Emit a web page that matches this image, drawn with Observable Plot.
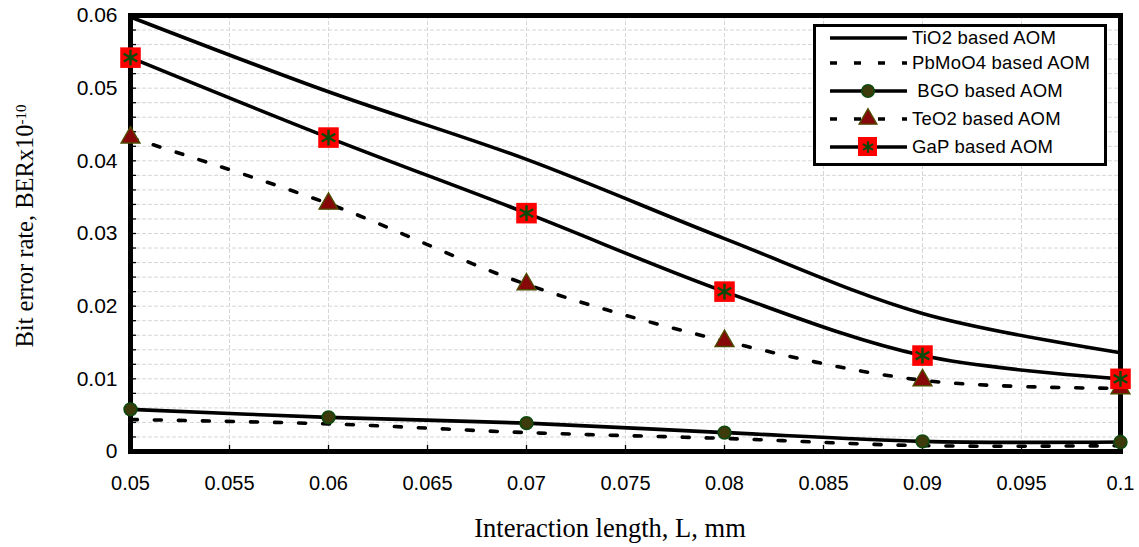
<!DOCTYPE html>
<html><head><meta charset="utf-8">
<script src="https://cdn.jsdelivr.net/npm/d3@7"></script>
<script src="https://cdn.jsdelivr.net/npm/@observablehq/plot@0.6"></script>
<style>
body{margin:0;background:#fff;}
#wrap{position:relative;width:1139px;height:547px;overflow:hidden;}
#legend{position:absolute;left:813px;top:24px;width:288px;height:136px;border:3px solid #000;background:#fff;}
</style></head><body><div id="wrap"></div>
<script>
// ---- data ----
const lengths = [0.05, 0.06, 0.07, 0.08, 0.09, 0.1];
const tio2   = [0.0598, 0.0495, 0.0402, 0.0293, 0.0190, 0.0136];
const pbmoo4 = [0.0044, 0.0038, 0.0026, 0.0018, 0.0008, 0.0008];
const bgo    = [0.0058, 0.0047, 0.0039, 0.0026, 0.0014, 0.0013];
const teo2   = [0.0432, 0.0341, 0.0230, 0.0152, 0.0098, 0.0087];
const gap    = [0.0542, 0.0432, 0.0328, 0.0220, 0.0132, 0.0100];
const seriesNames = ["TiO2 based AOM", "PbMoO4 based AOM", " BGO based AOM", "TeO2 based AOM", "GaP based AOM"];
const xTicks = [0.05, 0.055, 0.06, 0.065, 0.07, 0.075, 0.08, 0.085, 0.09, 0.095, 0.1];
const xTickLabels = ["0.05", "0.055", "0.06", "0.065", "0.07", "0.075", "0.08", "0.085", "0.09", "0.095", "0.1"];
const yTicks = [0, 0.01, 0.02, 0.03, 0.04, 0.05, 0.06];
const yTickLabels = ["0", "0.01", "0.02", "0.03", "0.04", "0.05", "0.06"];
const yMinorStep = 0.002;
const xTitle = "Interaction length, L, mm";
const yTitle = "Bit error rate, BERx10";
const yTitleSup = "-10";

// ---- build table ----
const seriesValues = [tio2, pbmoo4, bgo, teo2, gap];
const rows = [];
seriesValues.forEach((vals, s) => vals.forEach((v, i) => rows.push({series: seriesNames[s], x: lengths[i], y: v})));
const bySeries = name => rows.filter(r => r.series === name);
const yMinor = d3.range(Math.round(yTicks[yTicks.length - 1] / yMinorStep) + 1).map(i => i * yMinorStep);

const W = 1139, H = 547, mL = 130, mR = 19, mT = 15, mB = 96;
const plotW = W - mL - mR, plotH = H - mT - mB;
const gridStyle = {stroke: "#d6d6d6", strokeWidth: 1, strokeDasharray: "4,2"};
const lineStyle = {x: "x", y: "y", stroke: "#000", strokeWidth: 3.6, curve: "catmull-rom"};
const dashed = "7,17";
const green = "#0a4a0a";

const chart = Plot.plot({
  width: W, height: H,
  marginLeft: mL, marginRight: mR, marginTop: mT, marginBottom: mB,
  x: {domain: [lengths[0], lengths[lengths.length - 1]]},
  y: {domain: [yTicks[0], yTicks[yTicks.length - 1]]},
  style: {fontFamily: "'Liberation Sans', Arial, sans-serif", color: "#000", background: "#fff"},
  marks: [
    Plot.ruleY(yMinor, gridStyle),
    Plot.ruleX(xTicks, gridStyle),
    Plot.tickY(yMinor, {y: d => d, insetRight: plotW - 6, stroke: "#000", strokeWidth: 1.3}),
    Plot.tickX(xTicks, {x: d => d, insetTop: plotH - 6, stroke: "#000", strokeWidth: 1.3}),
    Plot.axisY(yTicks, {tickSize: 0, tickPadding: 13, tickFormat: d => yTickLabels[yTicks.indexOf(d)], fontSize: 21, label: null}),
    Plot.axisX(xTicks, {tickSize: 0, tickPadding: 24, tickFormat: d => xTickLabels[xTicks.indexOf(d)], fontSize: 20, label: null}),
    Plot.frame({stroke: "#000", strokeWidth: 5}),
    Plot.line(bySeries(seriesNames[0]), lineStyle),
    Plot.line(bySeries(seriesNames[1]), {...lineStyle, strokeDasharray: dashed}),
    Plot.line(bySeries(seriesNames[2]), lineStyle),
    Plot.line(bySeries(seriesNames[3]), {...lineStyle, strokeDasharray: dashed}),
    Plot.line(bySeries(seriesNames[4]), lineStyle),
    Plot.dot(bySeries(seriesNames[2]), {x: "x", y: "y", r: 6.4, fill: "#3d3a0c", stroke: "#0e4a0e", strokeWidth: 1.6}),
    Plot.dot(bySeries(seriesNames[3]), {x: "x", y: "y", symbol: "triangle", r: 7, fill: "#860808", stroke: "#4d4a00", strokeWidth: 1.4}),
    Plot.dot(bySeries(seriesNames[4]), {x: "x", y: "y", symbol: "square", r: 11.6, fill: "#ff0000", stroke: "none"}),
    Plot.dot(bySeries(seriesNames[4]), {x: "x", y: "y", symbol: "asterisk", r: 7.4, fill: "none", stroke: green, strokeWidth: 2.4})
  ]
});

const wrap = document.getElementById("wrap");
wrap.appendChild(chart);

// axis titles
const svg = d3.select(chart);
svg.append("text")
  .attr("x", 610).attr("y", 537)
  .attr("text-anchor", "middle")
  .attr("font-family", "'Liberation Serif', 'Times New Roman', serif")
  .attr("font-size", 26.5).attr("fill", "#000")
  .text(xTitle);
const yt = svg.append("text")
  .attr("transform", "translate(33,226) rotate(-90)")
  .attr("text-anchor", "middle")
  .attr("font-family", "'Liberation Serif', 'Times New Roman', serif")
  .attr("font-size", 24.5).attr("fill", "#000");
yt.append("tspan").text(yTitle);
yt.append("tspan").attr("dy", "-0.45em").attr("font-size", 15).text(yTitleSup);

// legend
const leg = document.createElement("div");
leg.id = "legend";
wrap.appendChild(leg);
const ls = d3.select(leg).append("svg").attr("width", 288).attr("height", 136);
const rowY = [11, 36, 64, 92, 120];
const styles = [
  {dash: null, sym: null},
  {dash: dashed, sym: null},
  {dash: null, sym: "circle"},
  {dash: dashed, sym: "triangle"},
  {dash: null, sym: "gap"}
];
seriesNames.forEach((name, i) => {
  const g = ls.append("g").attr("transform", `translate(0,${rowY[i]})`);
  g.append("line").attr("x1", 14).attr("x2", 91).attr("y1", 0).attr("y2", 0)
    .attr("stroke", "#000").attr("stroke-width", 3.6)
    .attr("stroke-dasharray", styles[i].dash);
  const s = styles[i].sym;
  if (s === "circle") g.append("circle").attr("cx", 52).attr("r", 6.2).attr("fill", "#3d3a0c").attr("stroke", "#0e4a0e").attr("stroke-width", 1.6);
  if (s === "triangle") g.append("path").attr("transform", "translate(52,0)").attr("d", d3.symbol(d3.symbolTriangle, Math.PI * 6.6 * 6.6)()).attr("fill", "#860808").attr("stroke", "#4d4a00").attr("stroke-width", 1.4);
  if (s === "gap") {
    g.append("rect").attr("x", 42).attr("y", -10).attr("width", 19).attr("height", 19).attr("fill", "#ff0000");
    g.append("path").attr("transform", "translate(52,0)").attr("d", d3.symbol(d3.symbolAsterisk, Math.PI * 5.5 * 5.5)()).attr("fill", "none").attr("stroke", green).attr("stroke-width", 2.2);
  }
  g.append("text").attr("x", 96).attr("y", 0).attr("dy", "0.35em")
    .attr("font-family", "'Liberation Sans', Arial, sans-serif").attr("font-size", 18.5)
    .attr("letter-spacing", "0.2px").attr("xml:space", "preserve").style("white-space", "pre")
    .text(name);
});
</script>
</body></html>
